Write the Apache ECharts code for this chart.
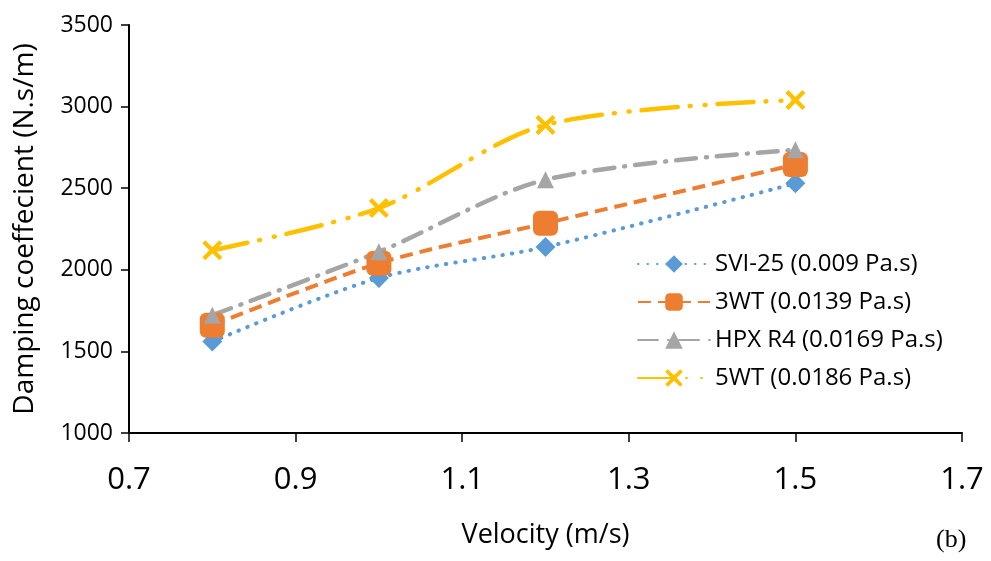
<!DOCTYPE html>
<html><head><meta charset="utf-8">
<script src="https://cdn.jsdelivr.net/npm/echarts@6/dist/echarts.min.js"></script>
<style>html,body{margin:0;padding:0;background:#fff}#c{width:991px;height:561px}</style>
</head><body><div id="c"></div>
<script>
const velocity = [0.8, 1.0, 1.2, 1.5];
const svi25 = [1560, 1950, 2140, 2530];
const wt3 = [1660, 2040, 2285, 2645];
const hpxR4 = [1722, 2110, 2552, 2735];
const wt5 = [2120, 2378, 2888, 3040];
const seriesNames = ['SVI-25 (0.009 Pa.s)', '3WT (0.0139 Pa.s)', 'HPX R4 (0.0169 Pa.s)', '5WT (0.0186 Pa.s)'];
const xTicks = ['0.7','0.9','1.1','1.3','1.5','1.7'];
const yTicks = ['1000','1500','2000','2500','3000','3500'];

const pair = arr => velocity.map((v, i) => [v, arr[i]]);
const xMark = 'path://M0,3 L3,0 L10,7 L17,0 L20,3 L13,10 L20,17 L17,20 L10,13 L3,20 L0,17 L7,10 Z';
const font = '"Open Sans", Lato, sans-serif';

const chart = echarts.init(document.getElementById('c'));
chart.setOption({
  animation: false,
  backgroundColor: '#fff',
  grid: { left: 129, right: 29, top: 25, bottom: 128 },
  xAxis: {
    type: 'value', min: 0.7, max: 1.7, interval: 0.2,
    name: 'Velocity (m/s)', nameLocation: 'middle', nameGap: 89,
    nameTextStyle: { fontFamily: font, fontSize: 27, color: '#000' },
    axisLine: { show: true, lineStyle: { color: '#000', width: 2 } },
    axisTick: { show: true, length: 9, lineStyle: { color: '#000', width: 1.5 } },
    splitLine: { show: false },
    axisLabel: { fontFamily: font, fontSize: 31, color: '#000', margin: 32,
      formatter: v => { const s = v.toFixed(1); return xTicks.includes(s) ? s : ''; } }
  },
  yAxis: {
    type: 'value', min: 1000, max: 3500, interval: 500,
    name: 'Damping coeffecient (N.s/m)', nameLocation: 'middle', nameGap: 90,
    nameTextStyle: { fontFamily: font, fontSize: 28, color: '#000' },
    axisLine: { show: true, lineStyle: { color: '#000', width: 2 } },
    axisTick: { show: true, length: 8, lineStyle: { color: '#000', width: 1.5 } },
    splitLine: { show: false },
    axisLabel: { fontFamily: font, fontSize: 23, color: '#000', margin: 16,
      formatter: v => { const s = String(Math.round(v)); return yTicks.includes(s) ? s : ''; } }
  },
  legend: {
    orient: 'vertical', left: 632, top: 247, itemWidth: 72, itemHeight: 22, itemGap: 14,
    textStyle: { fontFamily: font, fontSize: 24, color: '#000' },
    data: seriesNames
  },
  graphic: [{ type: 'text', left: 936, top: 527,
    style: { text: '(b)', font: '26px "Liberation Serif", serif', fill: '#000' } }],
  series: [
    { name: seriesNames[0], type: 'line', data: pair(svi25), smooth: 0.3,
      symbol: 'diamond', symbolSize: 20, color: '#5B9BD5',
      lineStyle: { width: 4, type: [0.5, 9], cap: 'round', color: '#5B9BD5' },
      itemStyle: { color: '#5B9BD5' } },
    { name: seriesNames[1], type: 'line', data: pair(wt3), smooth: 0.3,
      symbol: 'roundRect', symbolSize: 25, color: '#ED7D31',
      lineStyle: { width: 4, type: [13, 7], color: '#ED7D31' },
      itemStyle: { color: '#ED7D31' } },
    { name: seriesNames[2], type: 'line', data: pair(hpxR4), smooth: 0.3,
      symbol: 'triangle', symbolSize: 17, color: '#A5A5A5',
      lineStyle: { width: 4.5, type: [20, 10, 1, 10], cap: 'round', color: '#A5A5A5' },
      itemStyle: { color: '#A5A5A5' } },
    { name: seriesNames[3], type: 'line', data: pair(wt5), smooth: 0.3,
      symbol: xMark, symbolSize: 20, color: '#FFC000',
      lineStyle: { width: 4.5, type: [36, 12, 1, 14, 1, 12], cap: 'round', color: '#FFC000' },
      itemStyle: { color: '#FFC000' } }
  ]
});
</script></body></html>
